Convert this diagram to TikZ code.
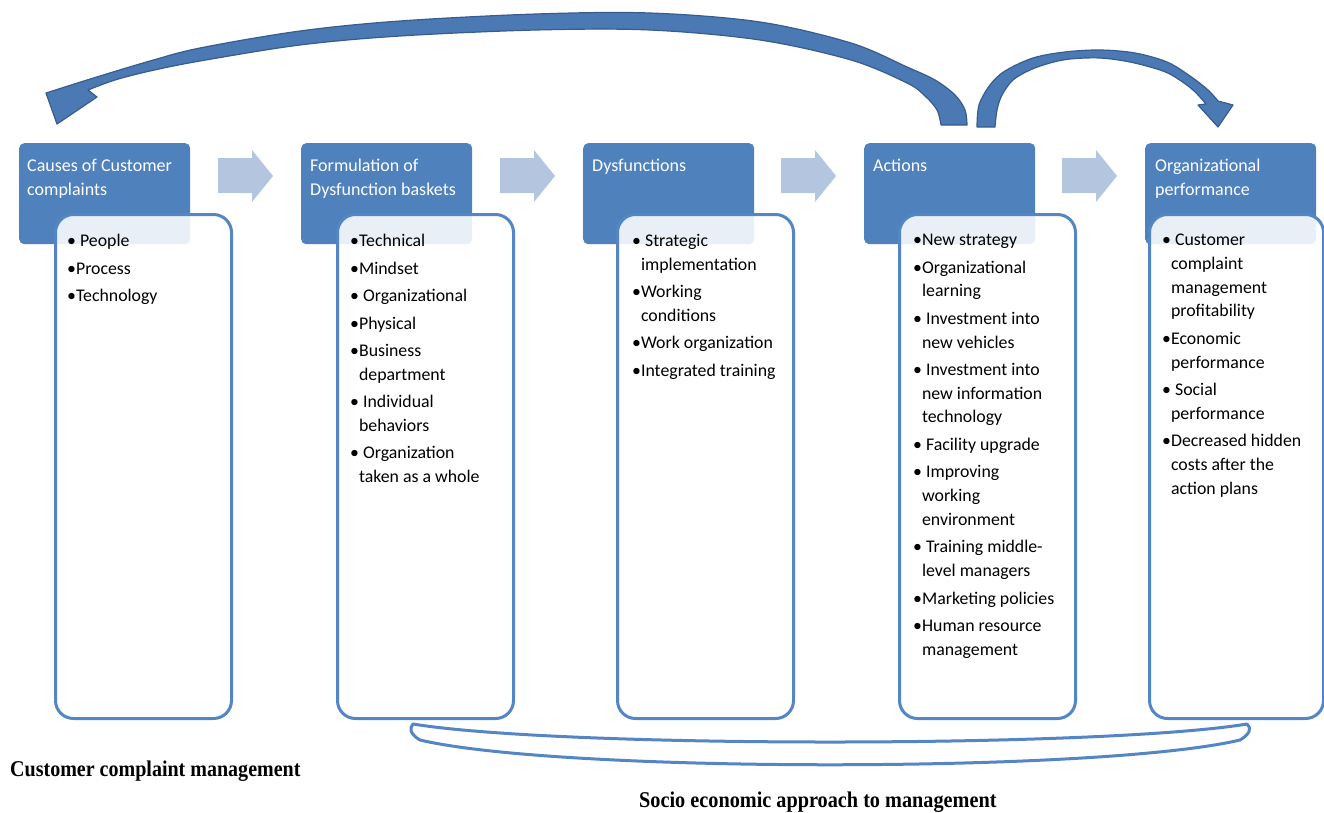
\documentclass[tikz,border=0pt]{standalone}
\usepackage{fontspec}
\usepackage{graphicx}
\setmainfont{Carlito}
\newfontfamily\tnr{Liberation Serif}
\definecolor{hdr}{RGB}{79,129,189}
\definecolor{bdr}{RGB}{84,133,196}
\definecolor{garrow}{RGB}{180,197,223}
\definecolor{carrow}{RGB}{74,121,180}
\definecolor{carrowd}{RGB}{56,92,142}
\tikzset{
  hdrbox/.style={fill=hdr, rounded corners=5pt, minimum width=171pt, minimum height=101pt, anchor=north west, inner sep=0pt},
  bodybox/.style={draw=bdr, line width=3pt, fill=white, fill opacity=0.88, rounded corners=18pt, minimum width=176pt, minimum height=504pt, anchor=north west, inner sep=0pt},
  hdrtext/.style={text=white, font=\fontsize{18}{24}\selectfont, align=left, anchor=north west, inner sep=0pt},
  bodytext/.style={text=black, font=\fontsize{17.8}{23.7}\selectfont, align=left, anchor=north west, inner sep=0pt},
  flowarrow/.style={fill=garrow},
  curvarrow/.style={fill=carrow, draw=carrowd, line width=1.2pt, line join=round},
  bracestyle/.style={draw=bdr, line width=3pt, fill=white, line join=round},
  caption/.style={font=\tnr\bfseries\fontsize{22.5}{26}\selectfont, anchor=base west, inner sep=0pt},
}
\newcommand{\ct}{\phantom{•}}
\begin{document}
\begin{tikzpicture}[x=1pt,y=-1pt]
\useasboundingbox (0,0) rectangle (1324,812);

% headers
\node[hdrbox] (h1) at (19,143) {};
\node[hdrbox] (h2) at (301,143) {};
\node[hdrbox] (h3) at (583,143) {};
\node[hdrbox] (h4) at (864,143) {};
\node[hdrbox] (h5) at (1145,143) {};

\node[hdrtext] (ht1) at (27,159) {Causes of Customer\\complaints};
\node[hdrtext] (ht2) at (310,159) {Formulation of\\Dysfunction baskets};
\node[hdrtext] (ht3) at (592,159) {Dysfunctions};
\node[hdrtext] (ht4) at (873,159) {Actions};
\node[hdrtext] (ht5) at (1155,159) {Organizational\\performance};

% bodies
\node[bodybox] (b1) at (54,213) {};
\node[bodybox] (b2) at (336,213) {};
\node[bodybox] (b3) at (616,213) {};
\node[bodybox] (b4) at (898,213) {};
\node[bodybox, minimum width=174pt] (b5) at (1148,213) {};

% body texts
\node[bodytext] (t1) at (67,234) {• People\\[3.8pt]•Process\\[3.8pt]•Technology};
\node[bodytext] (t2) at (350,234) {•Technical\\[3.8pt]•Mindset\\[3.8pt]• Organizational\\[3.8pt]•Physical\\[3.8pt]•Business\\\ct department\\[3.8pt]• Individual\\\ct behaviors\\[3.8pt]• Organization\\\ct taken as a whole};
\node[bodytext] (t3) at (632,234) {• Strategic\\\ct implementation\\[3.8pt]•Working\\\ct conditions\\[3.8pt]•Work organization\\[3.8pt]•Integrated training};
\node[bodytext] (t4) at (913,234) {•New strategy\\[3.8pt]•Organizational\\\ct learning\\[3.8pt]• Investment into\\\ct new vehicles\\[3.8pt]• Investment into\\\ct new information\\\ct technology\\[3.8pt]• Facility upgrade\\[3.8pt]• Improving\\\ct working\\\ct environment\\[3.8pt]• Training middle-\\\ct level managers\\[3.8pt]•Marketing policies\\[3.8pt]•Human resource\\\ct management};
\node[bodytext] (t5) at (1162,234) {• Customer\\\ct complaint\\\ct management\\\ct profitability\\[3.8pt]•Economic\\\ct performance\\[3.8pt]• Social\\\ct performance\\[3.8pt]•Decreased hidden\\\ct costs after the\\\ct action plans};

% flow arrows
\foreach \i/\x in {1/218,2/500,3/781,4/1062}{
  \fill[flowarrow] (\x,158) -- (\x+34,158) -- (\x+34,150) -- (\x+55,176) -- (\x+34,202) -- (\x+34,193) -- (\x,193) -- cycle;
}

% big curved arrow back to the causes
\coordinate (bigtip) at (57,124);
\path[curvarrow] plot[smooth, tension=0.55] coordinates {(967,125) (965,110) (955,95) (935,80) (907,67) (851,43) (760,22) (650,13) (536,14) (400,21) (300,31) (200,48) (150,61) (100,76) (68,86)}
  -- (46,93) -- (bigtip) -- (97,97) -- (88,90)
  -- plot[smooth, tension=0.55] coordinates {(88,90) (115,80) (150,71) (200,61) (300,45) (400,36) (536,30) (650,30) (760,40) (851,60) (907,83) (925,96) (937,110) (941,125)} -- cycle;

% small curved arrow to organizational performance
\coordinate (smalltip) at (1218,127);
\path[curvarrow] plot[smooth, tension=0.55] coordinates {(977,127) (979,105) (990,85) (1005,71) (1033,58) (1065,52) (1100,50) (1135,53) (1167,62) (1190,76) (1208,90) (1218,101)}
  -- (1233,105) -- (smalltip) -- (1198,105) -- (1206,104)
  -- plot[smooth, tension=0.55] coordinates {(1206,104) (1193,90) (1175,77) (1160,70) (1130,62) (1100,58) (1070,59) (1050,63) (1030,70) (1013,80) (1002,95) (997,110) (995,127)} -- cycle;

% bottom brace
\path[bracestyle] (413,724) .. controls (560,748) and (1100,748) .. (1247,724)
  .. controls (1252,728) and (1250,734) .. (1240,740)
  .. controls (1100,773) and (560,773) .. (420,740)
  .. controls (410,734) and (409,728) .. (413,724) -- cycle;

% captions
\node[caption] (c1) at (10,776) {\scalebox{0.89}[1]{Customer complaint management}};
\node[caption] (c2) at (639,807) {\scalebox{0.9}[1]{Socio economic approach to management}};
\end{tikzpicture}
\end{document}
